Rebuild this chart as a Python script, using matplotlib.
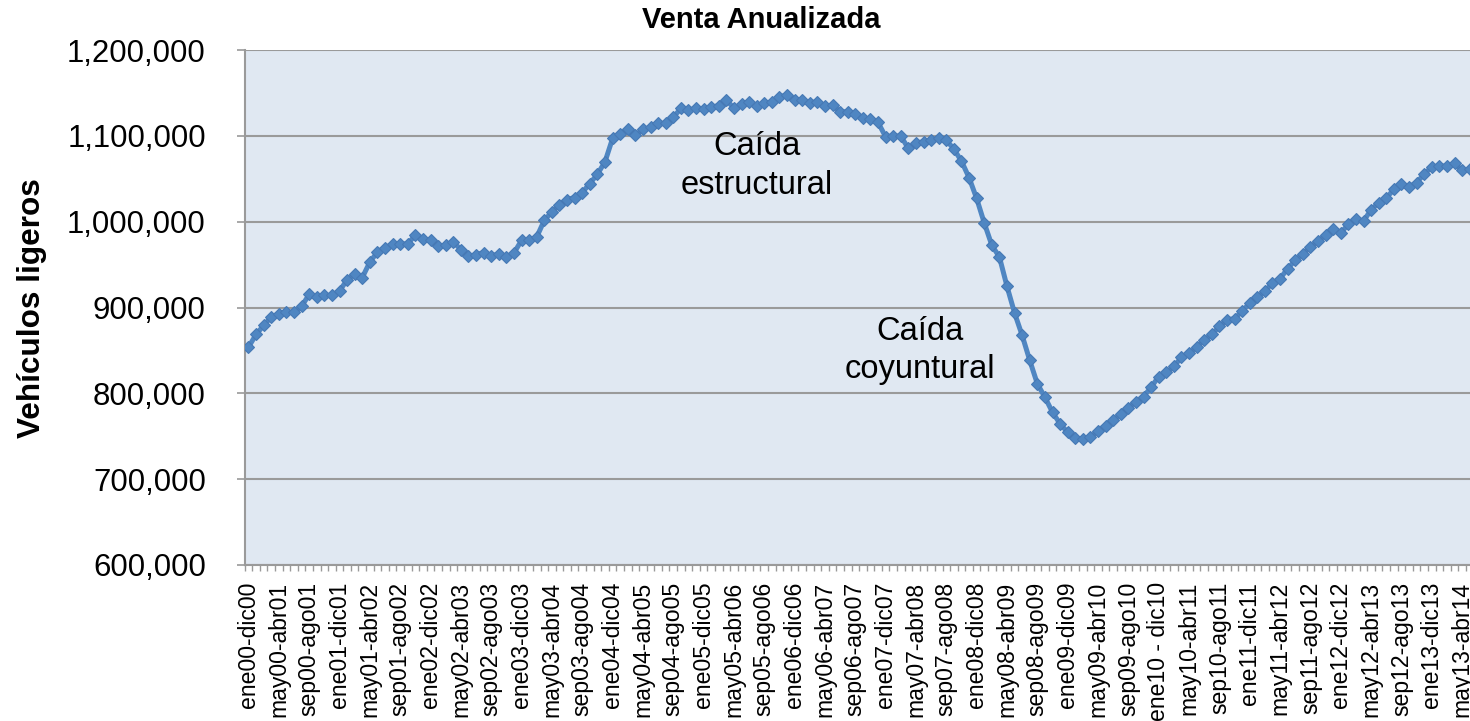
import matplotlib
matplotlib.use("Agg")
import matplotlib.pyplot as plt
from matplotlib.ticker import FuncFormatter, MultipleLocator, FixedLocator

# ---- data (annualized light-vehicle sales, monthly rolling 12-month) ----
ventas = [
    853800, 868600, 879100, 888800, 892800, 894600, 894600, 901300, 915300, 912100,
    914100, 914100, 919100, 932400, 938600, 934800, 953000, 964600, 969800, 973600,
    973600, 974400, 984100, 979500, 978300, 971300, 972500, 976300, 967400, 959600,
    961600, 964000, 959600, 962800, 958800, 963500, 978300, 978300, 982100, 1001600,
    1011300, 1019900, 1025800, 1028100, 1033900, 1044400, 1055300, 1069700, 1097000, 1102000,
    1107500, 1100800, 1107500, 1109800, 1114500, 1114500, 1121500, 1132000, 1130000, 1132000,
    1130800, 1133800, 1135000, 1142000, 1132000, 1137000, 1139700, 1134700, 1137800, 1139700,
    1145500, 1147500, 1141700, 1141700, 1138500, 1139700, 1134700, 1135800, 1128000, 1128000,
    1125300, 1120300, 1119500, 1115600, 1098800, 1100000, 1099600, 1085300, 1091800, 1093000,
    1095000, 1097700, 1095000, 1084500, 1070500, 1051200, 1027000, 998500, 972500, 958800,
    924600, 893500, 867400, 838300, 811100, 795400, 777900, 764400, 754600, 747600,
    746900, 748800, 756600, 762400, 769100, 775700, 783100, 790100, 796300, 807100,
    819600, 824600, 831300, 842100, 846800, 853800, 862400, 868600, 877900, 885800,
    886900, 895800, 905100, 912100, 919100, 928500, 933600, 945300, 955000, 962800,
    970500, 977500, 984100, 991900, 986800, 997000, 1003600, 1000500, 1014100, 1021800,
    1027600, 1037500, 1043600, 1040500, 1045600, 1055300, 1063800, 1065000, 1064600, 1067800,
    1060000, 1060800,
]

etiquetas = [
    "ene00-dic00", "may00-abr01", "sep00-ago01", "ene01-dic01", "may01-abr02",
    "sep01-ago02", "ene02-dic02", "may02-abr03", "sep02-ago03", "ene03-dic03",
    "may03-abr04", "sep03-ago04", "ene04-dic04", "may04-abr05", "sep04-ago05",
    "ene05-dic05", "may05-abr06", "sep05-ago06", "ene06-dic06", "may06-abr07",
    "sep06-ago07", "ene07-dic07", "may07-abr08", "sep07-ago08", "ene08-dic08",
    "may08-abr09", "sep08-ago09", "ene09-dic09", "may09-abr10", "sep09-ago10",
    "ene10 - dic10", "may10-abr11", "sep10-ago11", "ene11-dic11", "may11-abr12",
    "sep11-ago12", "ene12-dic12", "may12-abr13", "sep12-ago13", "ene13-dic13",
    "may13-abr14",
]
paso_etiqueta = 4

titulo = "Venta Anualizada"
eje_y = "Vehículos ligeros"
anotaciones = [("Caída", "estructural", 67.0, 1077500, 1032800),
               ("Caída", "coyuntural", 88.5, 861600, 817300)]

# ---- figure ----
W, H = 1470, 721
fig = plt.figure(figsize=(W / 100, H / 100), dpi=100)
left_px, right_px, top_px, bottom_px = 244.7, 1473.5, 50, 565
ax = fig.add_axes([left_px / W, 1 - bottom_px / H, (right_px - left_px) / W, (bottom_px - top_px) / H])

bg = "#E0E8F2"
grid_c = "#9A9A9A"
line_c = "#4F86C2"
ax.set_facecolor(bg)

x = list(range(len(ventas)))
ax.plot(x, ventas, color=line_c, lw=3.6, marker="D", markersize=6.0,
        markerfacecolor="#4F86C2", markeredgecolor="#4679B5", markeredgewidth=0.8,
        zorder=3, clip_on=True)

ax.set_xlim(-0.5, len(ventas) - 0.5)
ax.set_ylim(600000, 1200000)
ax.yaxis.set_major_locator(MultipleLocator(100000))
ax.yaxis.set_major_formatter(FuncFormatter(lambda v, p: f"{int(round(v)):,}"))
ax.grid(axis="y", color=grid_c, lw=1.5, zorder=1)
ax.set_axisbelow(True)

for s in ["top", "right"]:
    ax.spines[s].set_visible(False)
for s in ["left", "bottom"]:
    ax.spines[s].set_color(grid_c)
    ax.spines[s].set_linewidth(1.5)

# y ticks
ax.tick_params(axis="y", direction="out", length=6, width=1.2, color=grid_c,
               pad=22, labelsize=22.4, labelcolor="#000000")
for lab in ax.get_yticklabels():
    lab.set_fontfamily("Liberation Sans")

# x ticks
major_pos = list(range(0, len(ventas), paso_etiqueta))[:len(etiquetas)]
ax.xaxis.set_major_locator(FixedLocator(major_pos))
ax.set_xticklabels(etiquetas, rotation=90, fontsize=16.6, family="Liberation Sans",
                   va="top", ha="center")
ax.xaxis.set_minor_locator(FixedLocator([i + 0.5 for i in range(-1, len(ventas))]))
ax.tick_params(axis="x", which="major", length=0, pad=12)
ax.tick_params(axis="x", which="minor", direction="out", length=4, width=1.0, color=grid_c)

# annotations
for l1, l2, xi, y1, y2 in anotaciones:
    ax.text(xi, y1, l1, ha="center", va="baseline", fontsize=23.5,
            family="Liberation Sans", zorder=4)
    ax.text(xi, y2, l2, ha="center", va="baseline", fontsize=23.5,
            family="Liberation Sans", zorder=4)

# title and y label
fig.text(761 / W, 1 - 20 / H, titulo, ha="center", va="center", fontsize=21,
         fontweight="bold", family="Liberation Sans")
fig.text(32 / W, 1 - 308.5 / H, eje_y, ha="center", va="center", rotation=90,
         fontsize=22.7, fontweight="bold", family="Liberation Sans")

fig.savefig("out.png", dpi=100, facecolor="white")
